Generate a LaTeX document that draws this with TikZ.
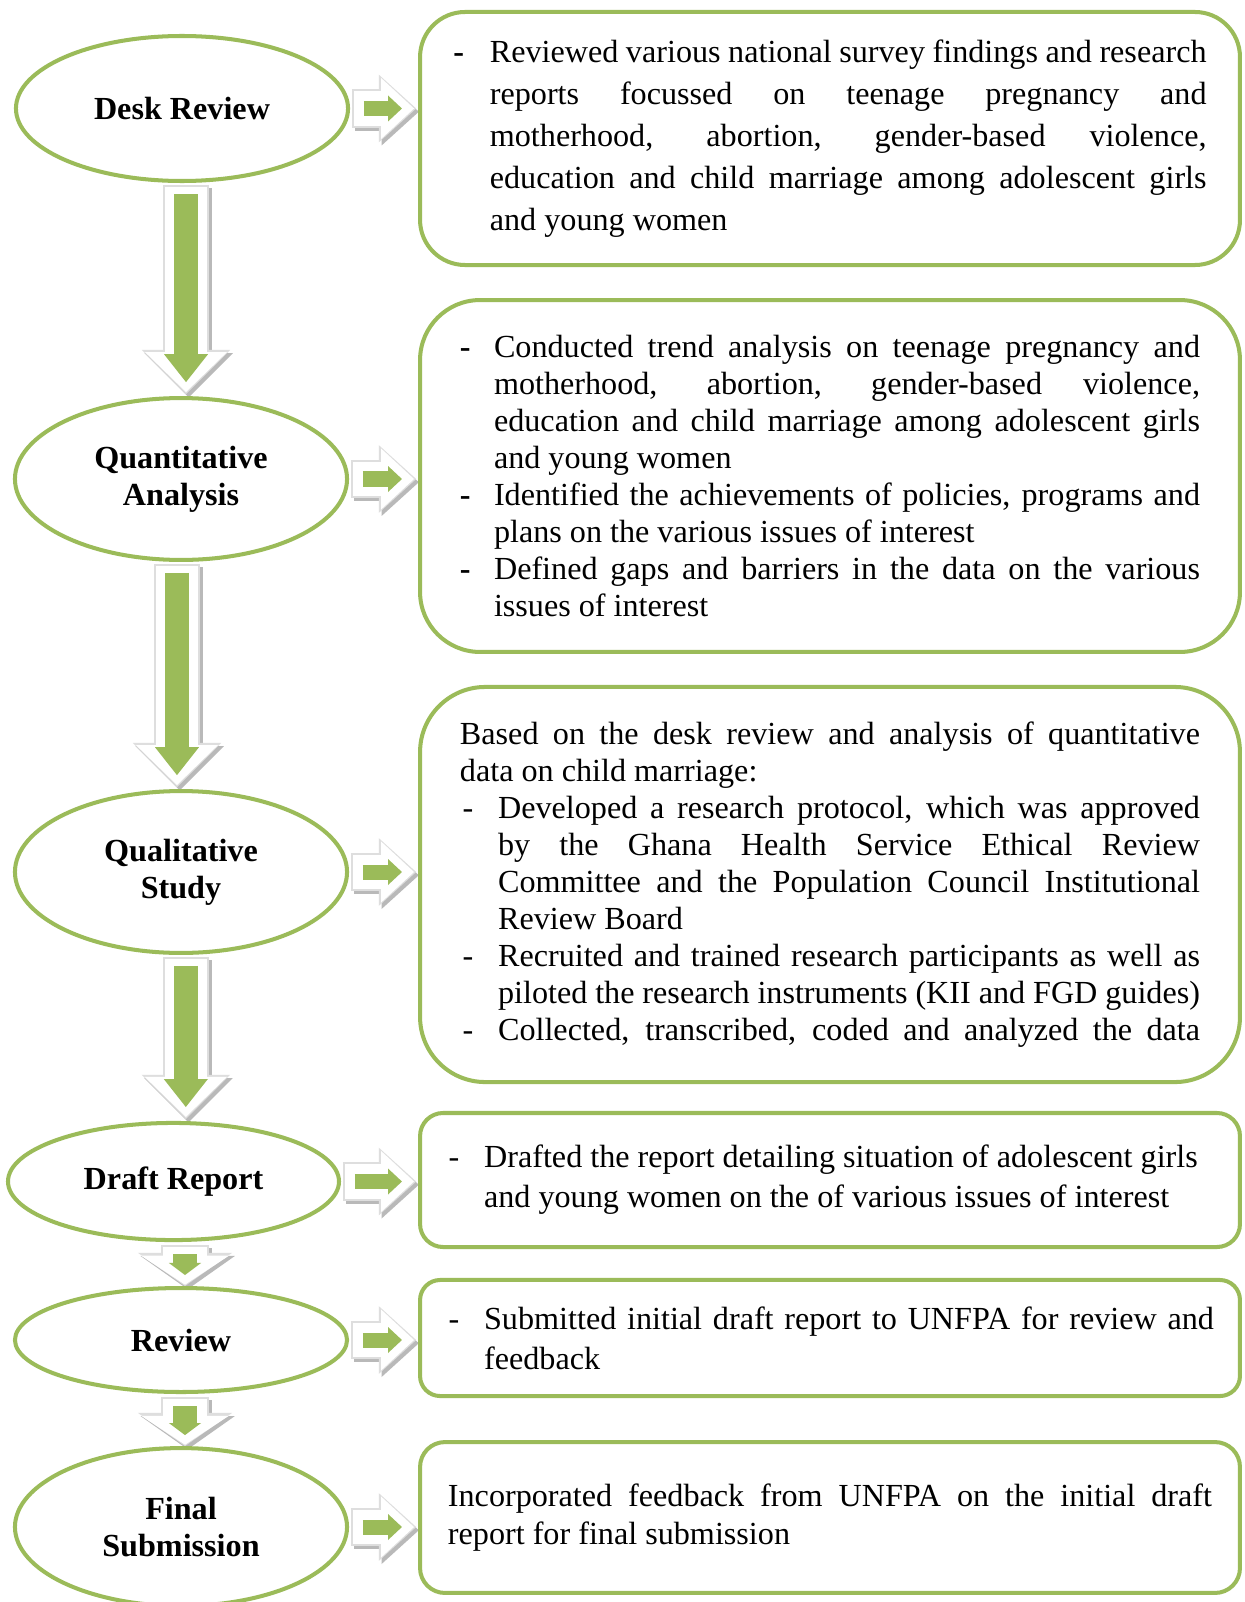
\documentclass[tikz,border=0pt]{standalone}
\usepackage{fontspec}
\setmainfont{Liberation Serif}
\usepackage{tikz}
\usetikzlibrary{shapes.geometric,arrows.meta,backgrounds}
\usepackage{xcolor}
\definecolor{leafGreen}{RGB}{155,187,89}
\definecolor{haloGray}{RGB}{222,222,222}
\definecolor{shadeGray}{RGB}{185,185,185}

% line set-up for the activity boxes
\newlength{\hangw}
\newlength{\textw}
\newlength{\fullw}
\newcommand{\normsp}{\spaceskip=0pt\xspaceskip=0pt}
\newcommand{\bd}{\makebox[\hangw][l]{\textbf{-}}}
\newcommand{\pd}{\makebox[\hangw][l]{\hspace{1pt}-}}
\newcommand{\ind}{\hspace*{\hangw}}
\newcommand{\jl}[1]{\makebox[\textw][s]{#1}}
\newcommand{\jf}[1]{\makebox[\fullw][s]{#1}}

\begin{document}
\begin{tikzpicture}[
  x=0.3731pt, y=-0.3731pt,
  stage/.style={ellipse, draw=leafGreen, line width=1.5pt, inner sep=0pt,
                minimum width=123.9pt, align=center,
                font=\fontsize{12}{13.8}\selectfont\bfseries},
  note/.style={rectangle, draw=leafGreen, line width=1.5pt, inner sep=0pt,
               minimum width=305.9pt, align=flush left},
  arrShade/.style={color=shadeGray, transform canvas={shift={(1pt,-1.2pt)}}},
  downH/.style={color=haloGray, line width=17.3pt, shorten <=0.7pt, shorten >=0.7pt,
                -{Triangle[length=16.5pt, width=33pt, line width=0pt]}},
  downW/.style={color=white, line width=15.7pt, shorten <=1.5pt, shorten >=1.5pt,
                -{Triangle[length=14.9pt, width=30.6pt, line width=0pt]}},
  downG/.style={color=leafGreen, line width=9pt, shorten <=4.1pt, shorten >=5.2pt,
                -{Triangle[length=10.4pt, width=16.4pt, line width=0pt]}},
  stubH/.style={color=haloGray, line width=18pt, shorten <=1.1pt, shorten >=0pt,
                -{Triangle[length=12.4pt, width=35.2pt, line width=0pt]}},
  stubW/.style={color=white, line width=16.4pt, shorten <=1.9pt, shorten >=0.5pt,
                -{Triangle[length=10.8pt, width=32.8pt, line width=0pt]}},
  stubG/.style={color=leafGreen, line width=9pt, shorten <=4.5pt, shorten >=4.1pt,
                -{Triangle[length=4.5pt, width=12pt, line width=0pt]}},
  sideH/.style={color=haloGray, line width=14.3pt, shorten <=0.7pt, shorten >=0.7pt,
                -{Triangle[length=13.9pt, width=25.2pt, line width=0pt]}},
  sideW/.style={color=white, line width=12.7pt, shorten <=1.5pt, shorten >=1.5pt,
                -{Triangle[length=12.3pt, width=22.8pt, line width=0pt]}},
  sideG/.style={color=leafGreen, line width=5.6pt, shorten <=5.2pt, shorten >=6pt,
                -{Triangle[length=5.2pt, width=9.7pt, line width=0pt]}}
]
  \useasboundingbox (0,0) rectangle (1245,1602);

  % stages
  \node[stage, minimum height=54.1pt] (E1) at (182,108.5) {\normsp Desk Review};
  \node[stage, minimum height=60.4pt] (E2) at (181,479) {Quantitative\\Analysis};
  \node[stage, minimum height=60.4pt] (E3) at (181,872) {Qualitative\\Study};
  \node[stage, minimum width=123.5pt, minimum height=43.7pt] (E4)
    at (173.5,1181.5) {\normsp Draft Report};
  \node[stage, minimum height=38.8pt] (E5) at (181,1340) {Review};
  \node[stage, minimum height=58.9pt] (E6) at (181,1527) {Final\\Submission};

  % activities
  \node[note, rounded corners=16.8pt, minimum height=94.4pt, text width=281pt,
        font=\fontsize{12}{15.7}\selectfont\setlength{\hangw}{13.6pt}%
             \setlength{\textw}{267.4pt}] (B1) at (830,138.5)
    {\normsp\bd\jl{Reviewed various national survey findings and research}\\
     \ind\jl{reports focussed on teenage pregnancy and}\\
     \ind\jl{motherhood, abortion, gender-based violence,}\\
     \ind\jl{education and child marriage among adolescent girls}\\
     \ind and young women};
  \node[note, rounded corners=22.4pt, minimum height=131.3pt, text width=276.1pt,
        font=\fontsize{12}{13.8}\selectfont\setlength{\hangw}{12.7pt}%
             \setlength{\textw}{263.4pt}] (B2) at (830,476)
    {\normsp\bd\jl{Conducted trend analysis on teenage pregnancy and}\\
     \ind\jl{motherhood, abortion, gender-based violence,}\\
     \ind\jl{education and child marriage among adolescent girls}\\
     \ind and young women\\
     \bd\jl{Identified the achievements of policies, programs and}\\
     \ind plans on the various issues of interest\\
     \bd\jl{Defined gaps and barriers in the data on the various}\\
     \ind issues of interest};
  \node[note, rounded corners=24.3pt, minimum height=147.4pt, text width=276.1pt,
        font=\fontsize{12}{13.8}\selectfont\setlength{\hangw}{14.2pt}%
             \setlength{\textw}{261.9pt}\setlength{\fullw}{276.1pt}] (B3) at (830,884.5)
    {\normsp\jf{Based on the desk review and analysis of quantitative}\\
     data on child marriage:\\
     \pd\jl{Developed a research protocol, which was approved}\\
     \ind\jl{by the Ghana Health Service Ethical Review}\\
     \ind\jl{Committee and the Population Council Institutional}\\
     \ind Review Board\\
     \pd\jl{Recruited and trained research participants as well as}\\
     \ind\jl{piloted the research instruments (KII and FGD guides)}\\
     \pd\jl{Collected, transcribed, coded and analyzed the data}};
  \node[note, rounded corners=8.6pt, minimum height=50pt, text width=286.5pt,
        font=\fontsize{12}{14.9}\selectfont\setlength{\hangw}{14.2pt}] (B4) at (830,1180)
    {\normsp\pd Drafted the report detailing situation of adolescent girls\\
     \ind and young women on the of various issues of interest};
  \node[note, rounded corners=7.5pt, minimum height=43.3pt, text width=286.5pt,
        font=\fontsize{12}{14.9}\selectfont\setlength{\hangw}{14.2pt}%
             \setlength{\textw}{272.3pt}] (B5) at (830,1338)
    {\normsp\pd\jl{Submitted initial draft report to UNFPA for review and}\\
     \ind feedback};
  \node[note, rounded corners=9.3pt, minimum height=56.3pt, text width=285.1pt,
        font=\fontsize{12}{14.2}\selectfont\setlength{\fullw}{285.1pt}] (B6) at (830,1517.5)
    {\normsp\jf{Incorporated feedback from UNFPA on the initial draft}\\
     report for final submission};

  % block arrows
  \begin{scope}[on background layer]
    \fill[white] (0,0) rectangle (1245,1602);
    \foreach \a/\b/\s in {E1/E2/1.5pt,E2/E3/-1.5pt,E3/E4/1.8pt} {
      \draw[downH, arrShade] ([xshift=\s]\a.south) -- ([xshift=\s]\a.south |- \b.north);
      \draw[downH] ([xshift=\s]\a.south) -- ([xshift=\s]\a.south |- \b.north);
      \draw[downW] ([xshift=\s]\a.south) -- ([xshift=\s]\a.south |- \b.north);
      \draw[downG] ([xshift=\s]\a.south) -- ([xshift=\s]\a.south |- \b.north);
    }
    \foreach \a/\b in {E4/E5,E5/E6} {
      \draw[stubH, arrShade] ([xshift=1.5pt]\b.north |- \a.south) -- ([xshift=1.5pt]\b.north);
      \draw[stubH] ([xshift=1.5pt]\b.north |- \a.south) -- ([xshift=1.5pt]\b.north);
      \draw[stubW] ([xshift=1.5pt]\b.north |- \a.south) -- ([xshift=1.5pt]\b.north);
      \draw[stubG] ([xshift=1.5pt]\b.north |- \a.south) -- ([xshift=1.5pt]\b.north);
    }
    \foreach \a/\b in {E1/B1,E2/B2,E3/B3,E4/B4,E5/B5,E6/B6} {
      \draw[sideH, arrShade] (\a.east) -- (\a.east -| \b.west);
      \draw[sideH] (\a.east) -- (\a.east -| \b.west);
      \draw[sideW] (\a.east) -- (\a.east -| \b.west);
      \draw[sideG] (\a.east) -- (\a.east -| \b.west);
    }
  \end{scope}
\end{tikzpicture}
\end{document}
